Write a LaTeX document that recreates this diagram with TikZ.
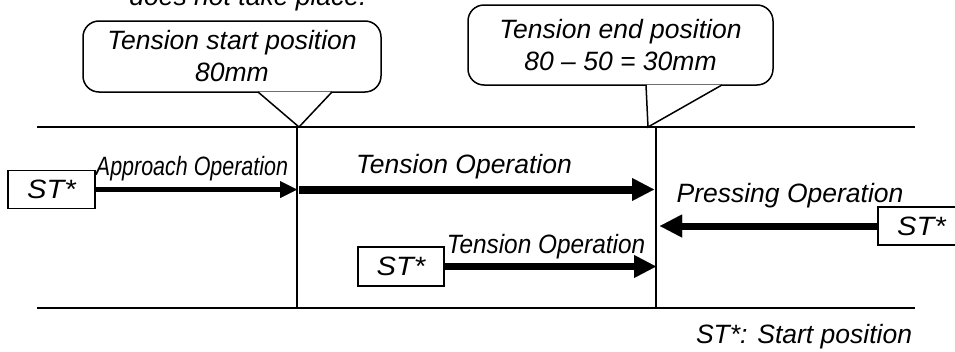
\documentclass[tikz,border=0pt]{standalone}
\usepackage{fontspec}
\setmainfont{Liberation Sans}
\usetikzlibrary{calc,arrows.meta,positioning}

\begin{document}
\begin{tikzpicture}[x=1pt,y=-1pt,
      every node/.style={font=\fontsize{26.5}{32}\selectfont\itshape,inner sep=0pt},
      rule/.style={line width=1.5pt},
      stbox/.style={draw,line width=1.5pt,minimum width=87pt,minimum height=38pt},
      callout/.style={draw,line width=1.5pt,rounded corners=16pt,align=center},
      oparrow/.style={line width=#1,-{Triangle[length=22pt,width=23pt,line width=0.01pt]}},
      smallarrow/.style={line width=#1,-{Triangle[length=17pt,width=17pt,line width=0.01pt]}}]
      \useasboundingbox (0,0) rectangle (955,351);
      % positions on the tension line
      \coordinate (ts) at (297,127); \coordinate (tsb) at (297,308);
      \coordinate (te) at (656,127); \coordinate (teb) at (656,308);
      \draw[rule] (37,127) -- (915,127);
      \draw[rule] (37,308) -- (915,308);
      \draw[rule] (ts) -- (tsb);
      \draw[rule] (te) -- (teb);
      % callouts
      \node[anchor=base] (note) at (248,5) {does not take place.};
      \node[callout,minimum width=298pt,minimum height=71pt] (cs) at (232,56.5)
        {Tension start position\\80mm};
      \node[callout,minimum width=305pt,minimum height=80pt] (ce) at (620.5,45)
        {Tension end position\\80 -- 50 = 30mm};
      \coordinate (ptip1) at (299,127);
      \coordinate (ptip2) at (648,127);
      \draw[rule,fill=white] ($(cs.south)+(26,-0.8)$) -- (ptip1) -- ($(cs.south)+(100,-0.8)$);
      \draw[rule,fill=white] ($(ce.south)+(25.5,-0.8)$) -- (ptip2) -- ($(ce.south)+(101.5,-0.8)$);
      % start positions
      \node[stbox] (st1) at (51.5,189.5) {\scalebox{1.1}[1]{ST*}};
      \node[stbox,minimum width=86pt,minimum height=39pt] (st2) at (401,266.5) {\scalebox{1.1}[1]{ST*}};
      \node[stbox] (st3) at (921.5,226) {\scalebox{1.1}[1]{ST*}};
      % operations
      \draw[smallarrow=5.5pt] (st1.east) -- (st1.east -| ts);
      \draw[oparrow=8pt] ($(st1.east -| ts)+(2,0)$) -- ($(st1.east -| te)+(-2,0)$);
      \draw[oparrow=7pt] (st2.east) -- (st2.east -| te);
      \draw[oparrow=7pt] (st3.west) -- ($(st3.west -| te)+(4,0)$);
      \node[anchor=base] (lapp) at (192,175) {\scalebox{0.81}[1]{Approach Operation}};
      \node[anchor=base] (lten) at (464,173.6) {Tension Operation};
      \node[anchor=base] (lpre) at (790,202.5) {Pressing Operation};
      \node[anchor=base] (lten2) at (546,253.3) {\scalebox{0.92}[1]{Tension Operation}};
      \node[anchor=base] (key) at (804,343) {ST*: Start position};
    \end{tikzpicture}
\end{document}
